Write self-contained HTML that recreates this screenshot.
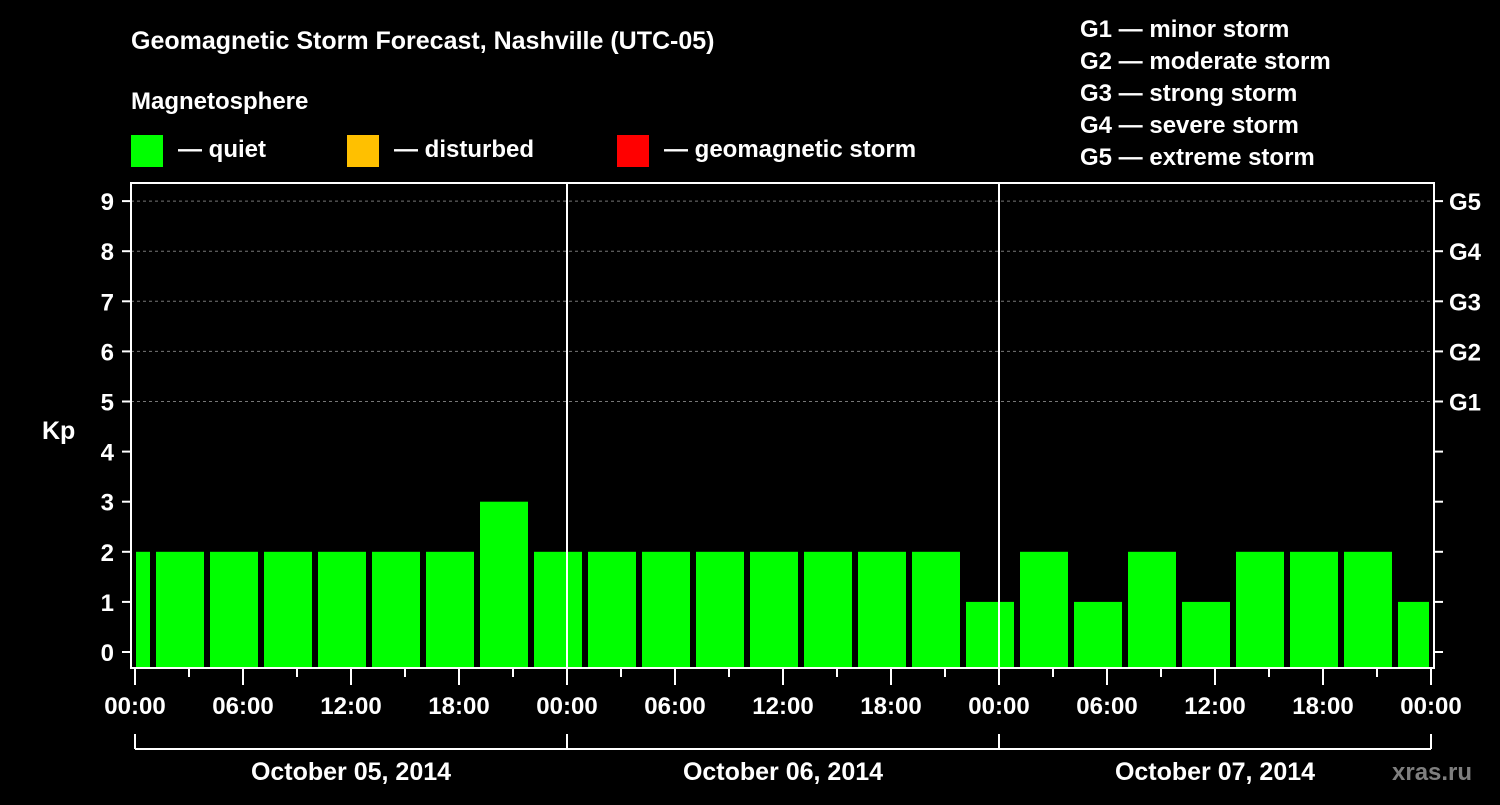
<!DOCTYPE html>
<html><head><meta charset="utf-8"><style>
body{margin:0;background:#000;width:1500px;height:800px;overflow:hidden;font-family:"Liberation Sans",sans-serif;font-weight:bold;color:#fff}
svg text{font-family:"Liberation Sans",sans-serif;font-weight:bold;fill:#fff}
</style></head><body>
<svg width="1500" height="800">
<text x="131" y="49" font-size="25">Geomagnetic Storm Forecast, Nashville (UTC-05)</text>
<text x="131" y="109" font-size="24">Magnetosphere</text>
<g><rect x="131" y="135" width="32" height="32" fill="#00ff00"/><text x="178" y="157" font-size="24">— quiet</text></g>
<g><rect x="347" y="135" width="32" height="32" fill="#ffc000"/><text x="394" y="157" font-size="24">— disturbed</text></g>
<g><rect x="617" y="135" width="32" height="32" fill="#ff0000"/><text x="664" y="157" font-size="24">— geomagnetic storm</text></g>
<g font-size="24">
<text x="1080" y="37">G1 — minor storm</text><text x="1080" y="69">G2 — moderate storm</text><text x="1080" y="101">G3 — strong storm</text><text x="1080" y="133">G4 — severe storm</text><text x="1080" y="165">G5 — extreme storm</text></g>
<text x="42" y="439" font-size="25">Kp</text>
<text x="1392" y="780" font-size="24" fill="#888" style="fill:#7f7f7f">xras.ru</text>
<g id="plot"></g>
</svg>
<script>
const values = [2,2,2,2,2,2,2,3,2,2,2,2,2,2,2,2,1,2,1,2,1,2,2,2,1];
const kpTicks = [0,1,2,3,4,5,6,7,8,9];
const gLabels = ["G1","G2","G3","G4","G5"];
const gLevels = [5,6,7,8,9];
const timeLabels = ["00:00","06:00","12:00","18:00"];
const dayLabels = ["October 05, 2014","October 06, 2014","October 07, 2014"];
const ns="http://www.w3.org/2000/svg";
const g=document.getElementById('plot');
const X0=135, PXH=18, Y0=652, PXK=50.1, TOP=183, BOT=668, L=131, R=1434;
const xh=h=>X0+h*PXH, yk=k=>Y0-k*PXK;
function mk(t,a,p){const e=document.createElementNS(ns,t);for(const k in a)e.setAttribute(k,a[k]);(p||g).appendChild(e);return e;}
// grid
gLevels.forEach((k,i)=>{
 const l=mk('line',{x1:L,x2:R,y1:yk(k),y2:yk(k),stroke:'#777','stroke-dasharray':'3,3'});
 
 
 const t=mk('text',{x:1449,y:yk(k)+9,'font-size':24});t.textContent=gLabels[i];
 
 
});
// bars: bins start at local 01:00 offset (-2h)
values.forEach((v,i)=>{
 let s=-2+i*3, e=s+3;
 let x1=xh(s)+3, x2=xh(e)-3;
 x1=Math.max(x1,X0+1); x2=Math.min(x2,xh(72)-2);
 const b=mk('rect',{x:x1,y:yk(v),width:x2-x1,height:BOT-yk(v),fill:v>=5?'#ff0000':(v>=4?'#ffc000':'#00ff00')});
 
 
});
// day separators
[1,2].forEach(d=>{const l=mk('line',{x1:xh(24*d),x2:xh(24*d),y1:TOP,y2:BOT,stroke:'#fff','stroke-width':2});
 
 });
// border
const bd=mk('rect',{x:L,y:TOP,width:R-L,height:BOT-TOP,fill:'none',stroke:'#fff','stroke-width':2});


// y ticks
kpTicks.forEach(k=>{
 mk('line',{x1:L-9,x2:L,y1:yk(k),y2:yk(k),stroke:'#fff','stroke-width':2});
 mk('line',{x1:R,x2:R+9,y1:yk(k),y2:yk(k),stroke:'#fff','stroke-width':2});
 const t=mk('text',{x:114,y:yk(k)+9,'font-size':24,'text-anchor':'end'});t.textContent=k;
 
 
});
// x ticks
for(let h=0;h<=72;h+=3){
 const long=h%6===0;
 mk('line',{x1:xh(h),x2:xh(h),y1:BOT,y2:BOT+(long?17:9),stroke:'#fff','stroke-width':2});
 if(long){const t=mk('text',{x:xh(h),y:714,'font-size':24,'text-anchor':'middle'});t.textContent=timeLabels[(h/6)%4];
 
 }
}
// day brackets
mk('line',{x1:xh(0),x2:xh(72),y1:749,y2:749,stroke:'#fff','stroke-width':2});
[0,1,2,3].forEach(d=>mk('line',{x1:xh(24*d),x2:xh(24*d),y1:734,y2:749,stroke:'#fff','stroke-width':2}));
dayLabels.forEach((s,d)=>{const t=mk('text',{x:xh(24*d+12),y:780,'font-size':25,'text-anchor':'middle'});t.textContent=s;
 
 });
</script>
</body></html>
